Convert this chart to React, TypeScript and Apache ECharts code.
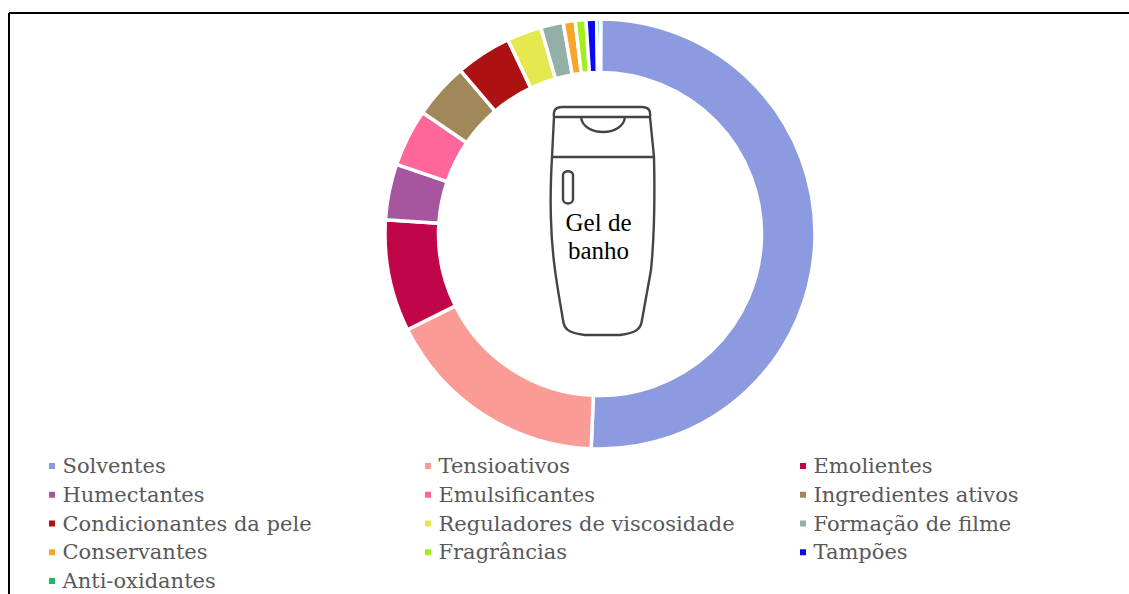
import React, { useEffect, useRef } from "react";
import * as echarts from "echarts";

const categories = ["Solventes","Tensioativos","Emolientes","Humectantes","Emulsificantes","Ingredientes ativos","Condicionantes da pele","Reguladores de viscosidade","Formação de filme","Conservantes","Fragrâncias","Tampões","Anti-oxidantes"];
const values = [50.6,17.0,8.4,4.2,4.3,4.2,4.2,2.6,1.7,0.9,0.8,0.8,0.3];
const colors = ["#8C9BDF","#FA9C95","#C00548","#A5569E","#FF6699","#A08858","#AC1212","#E6E84F","#92AFA8","#F9A529","#A2EE1D","#0A0AF0","#1FB868"];
const col1 = ["Solventes","Humectantes","Condicionantes da pele","Conservantes","Anti-oxidantes"];
const col2 = ["Tensioativos","Emulsificantes","Reguladores de viscosidade","Fragrâncias"];
const col3 = ["Emolientes","Ingredientes ativos","Formação de filme","Tampões"];

const bottle = "M554 117 C553 110 556 107 562 107 L642 107 C648 107 651 110 650 117 L654 157 C655 200 654 240 651 270 L642 320 C641 329 636 333 620 335 L585 335 C568 333 564 329 563 320 C558 290 552 260 551 220 C550 195 551 175 552 157 Z M554 117 L650 117 M552 157 L654 157 M581 117 C583 137 623 137 625 117 M563 175 C563 170 573 170 573 175 L573 199 C573 205 563 205 563 199 Z";
echarts.graphic.registerShape("bottle", echarts.graphic.extendPath(bottle, {}));

export default function App() {
  const ref = useRef<HTMLDivElement>(null);
  useEffect(() => {
    const chart = echarts.init(ref.current!, null, { renderer: "svg" });
    const legend = (data: string[], left: number) => ({
      data, left, top: 455.5, orient: "vertical", padding: 0, itemGap: 7.75,
      itemWidth: 8, itemHeight: 8, icon: "rect", selectedMode: false,
      textStyle: { fontFamily: "DejaVu Serif", fontSize: 21, color: "#595959", padding: [0,0,0,1.5] },
    });
    chart.setOption({
      animation: false,
      backgroundColor: "#fff",
      color: colors,
      legend: [legend(col1, 47), legend(col2, 423), legend(col3, 798)],
      series: [{
        type: "pie", center: [600, 234], radius: [161.5, 215], startAngle: 89.8, clockwise: true,
        label: { show: false }, labelLine: { show: false }, emphasis: { disabled: true }, silent: true,
        itemStyle: { borderColor: "#fff", borderWidth: 3.5 },
        data: categories.map((name, i) => ({ name, value: values[i] })),
      }],
      graphic: [
        { type: "line", shape: { x1: 9, y1: 13, x2: 1129, y2: 13 }, style: { stroke: "#000", lineWidth: 2 } },
        { type: "line", shape: { x1: 9, y1: 13, x2: 9, y2: 594 }, style: { stroke: "#000", lineWidth: 2 } },
        { type: "bottle", style: { fill: "none", stroke: "#444", lineWidth: 2.4 } },
        { type: "text", x: 598.5, y: 236, style: { text: "Gel de\nbanho", fill: "#000", font: `25px "Liberation Serif"`, lineHeight: 28, align: "center", verticalAlign: "middle" } },
      ],
    });
    return () => chart.dispose();
  }, []);
  return <div ref={ref} style={{ position: "fixed", left: 0, top: 0, width: 1129, height: 594 }} />;
}
